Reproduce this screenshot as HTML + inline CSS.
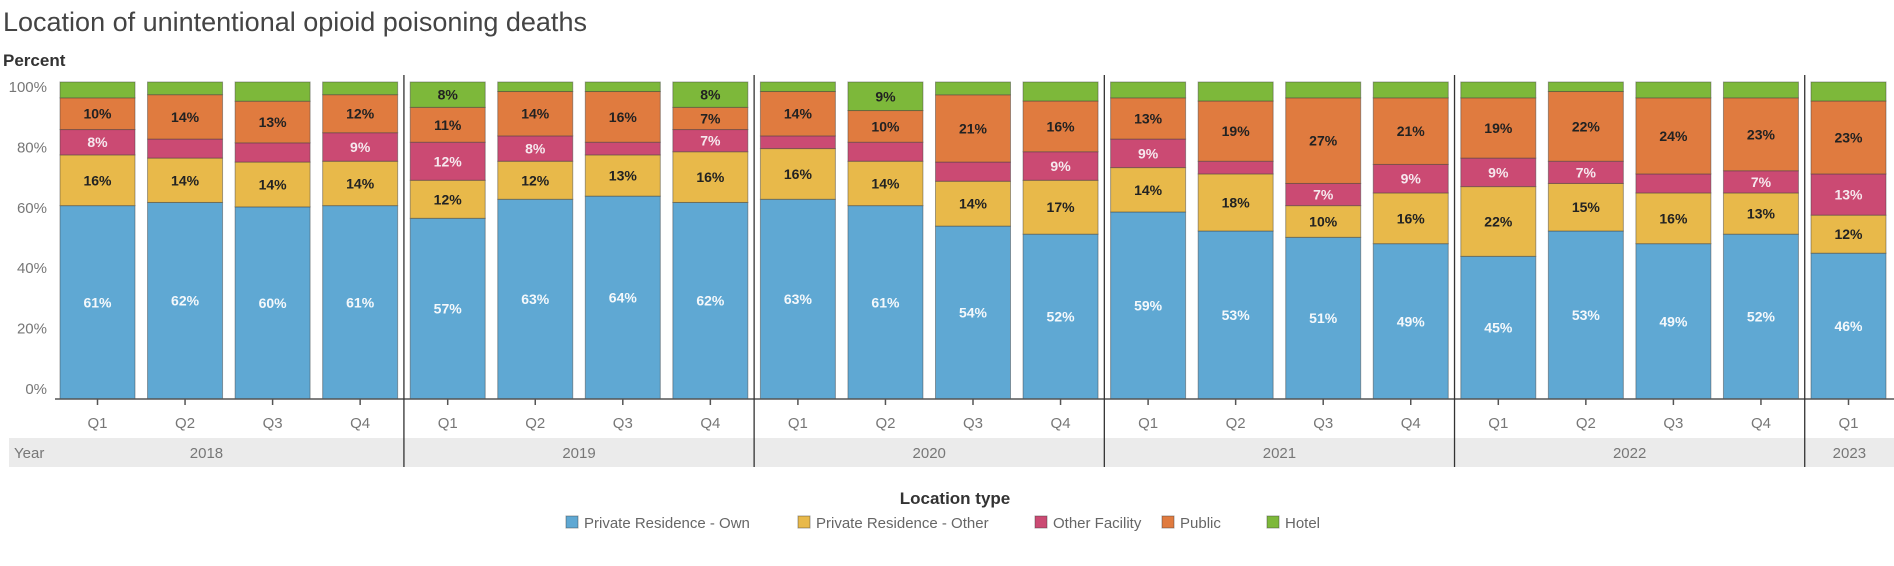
<!DOCTYPE html>
<html><head><meta charset="utf-8">
<style>
html,body{margin:0;padding:0;background:#fff;}
svg{display:block;font-family:"Liberation Sans",sans-serif;}
</style></head>
<body>
<svg id="chart" width="1894" height="566" viewBox="0 0 1894 566" xmlns="http://www.w3.org/2000/svg">
<text x="3" y="31" font-size="27" fill="#444">Location of unintentional opioid poisoning deaths</text>
<text x="3" y="66" font-size="17" font-weight="bold" fill="#333">Percent</text>
<rect x="9" y="438" width="1885" height="29" fill="#ebebeb"/>
<text x="14" y="458" font-size="15" fill="#777">Year</text>
<g id="grid"></g><g id="bars"></g><g id="axis"></g>
<text x="955" y="504" font-size="17" font-weight="bold" fill="#333" text-anchor="middle">Location type</text>
<g id="legend"></g>
</svg>
<script>
const quarters = ["Q1","Q2","Q3","Q4","Q1","Q2","Q3","Q4","Q1","Q2","Q3","Q4","Q1","Q2","Q3","Q4","Q1","Q2","Q3","Q4","Q1"];
const years = ["2018","2019","2020","2021","2022","2023"];
const yearCounts = [4,4,4,4,4,1];
const seriesNames = ["Private Residence - Own","Private Residence - Other","Other Facility","Public","Hotel"];
const own      = [61,62,60,61,57,63,64,62,63,61,54,52,59,53,51,49,45,53,49,52,46];
const other    = [16,14,14,14,12,12,13,16,16,14,14,17,14,18,10,16,22,15,16,13,12];
const facility = [8,6,6,9,12,8,4,7,4,6,6,9,9,4,7,9,9,7,6,7,13];
const publicV  = [10,14,13,12,11,14,16,7,14,10,21,16,13,19,27,21,19,22,24,23,23];
const hotel    = [5,4,6,4,8,3,3,8,3,9,4,6,5,6,5,5,5,3,5,5,6];
const yTicks = [0,20,40,60,80,100];

const colors = ["#5fa8d3","#e8b94a","#cb4a73","#e07b3f","#7db83a"];
const textColors = ["#f4f8fb","#222","#f6e8ee","#222","#222"];
const series = [own, other, facility, publicV, hotel];
const NS = "http://www.w3.org/2000/svg";
const top0 = 82, base = 399;
const x0 = 60, pitch = 87.55, bw = 75;
function yScale(v){ return base - (v/100)*(base-top0); }
function xScale(i){ return x0 + i*pitch; }
function mk(tag, attrs, parent){ const e=document.createElementNS(NS,tag); for(const k in attrs) e.setAttribute(k,attrs[k]); parent.appendChild(e); return e; }

const axis = document.getElementById('axis');
yTicks.forEach(t=>{
  const el = mk('text',{x:47,y:389-(t/100)*302+5,'font-size':15,fill:'#777','text-anchor':'end'},axis);
  
  
  el.textContent = t+'%';
});
const bl = mk('line',{x1:55,x2:1894,y1:base,y2:base,stroke:'#555','stroke-width':1.5},axis);



const bars = document.getElementById('bars');
quarters.forEach((q,i)=>{
  const g = mk('g',{},bars);
  
  
  const total = series.reduce((s,arr)=>s+arr[i],0);
  let cum = 0;
  series.forEach((arr,si)=>{
    const v = arr[i]*100/total;
    const y1 = yScale(cum+v), y2 = yScale(cum);
    const r = mk('rect',{x:xScale(i),y:y1,width:bw,height:y2-y1,fill:colors[si],stroke:'rgba(60,60,60,0.45)','stroke-width':1},g);
    
    
    if(arr[i] >= 7){
      const t = mk('text',{x:xScale(i)+bw/2,y:(y1+y2)/2+5,'font-size':14,'font-weight':'bold',fill:textColors[si],'text-anchor':'middle'},g);
      
      
      t.textContent = arr[i]+'%';
    }
    cum += v;
  });
  const tk = mk('line',{x1:xScale(i)+bw/2,x2:xScale(i)+bw/2,y1:base,y2:base+6,stroke:'#555','stroke-width':1.5},axis);
  
  
  const ql = mk('text',{x:xScale(i)+bw/2,y:428,'font-size':15,fill:'#777','text-anchor':'middle'},axis);
  
  
  ql.textContent = q;
});

let idx = 0;
let prevEdge = 9;
years.forEach((yr,k)=>{
  const end = idx + yearCounts[k];
  const edge = end < quarters.length ? (xScale(end-1)+bw + xScale(end))/2 : 1894;
  const yl = mk('text',{x:(prevEdge+edge)/2,y:458,'font-size':15,fill:'#777','text-anchor':'middle'},axis);
  
  
  yl.textContent = yr;
  if(end < quarters.length){
    const sl = mk('line',{x1:edge,x2:edge,y1:75,y2:467,stroke:'#333','stroke-width':1.3},axis);
    
    
  }
  prevEdge = edge; idx = end;
});

const legend = document.getElementById('legend');
const lx = [566,798,1035,1162,1267];
seriesNames.forEach((n,si)=>{
  const g = mk('g',{},legend);
  
  
  mk('rect',{x:lx[si],y:516,width:12,height:12,fill:colors[si],stroke:'rgba(60,60,60,0.45)'},g);
  const t = mk('text',{x:lx[si]+18,y:528,'font-size':15,fill:'#666'},g);
  t.textContent = n;
});
</script>
</body></html>
